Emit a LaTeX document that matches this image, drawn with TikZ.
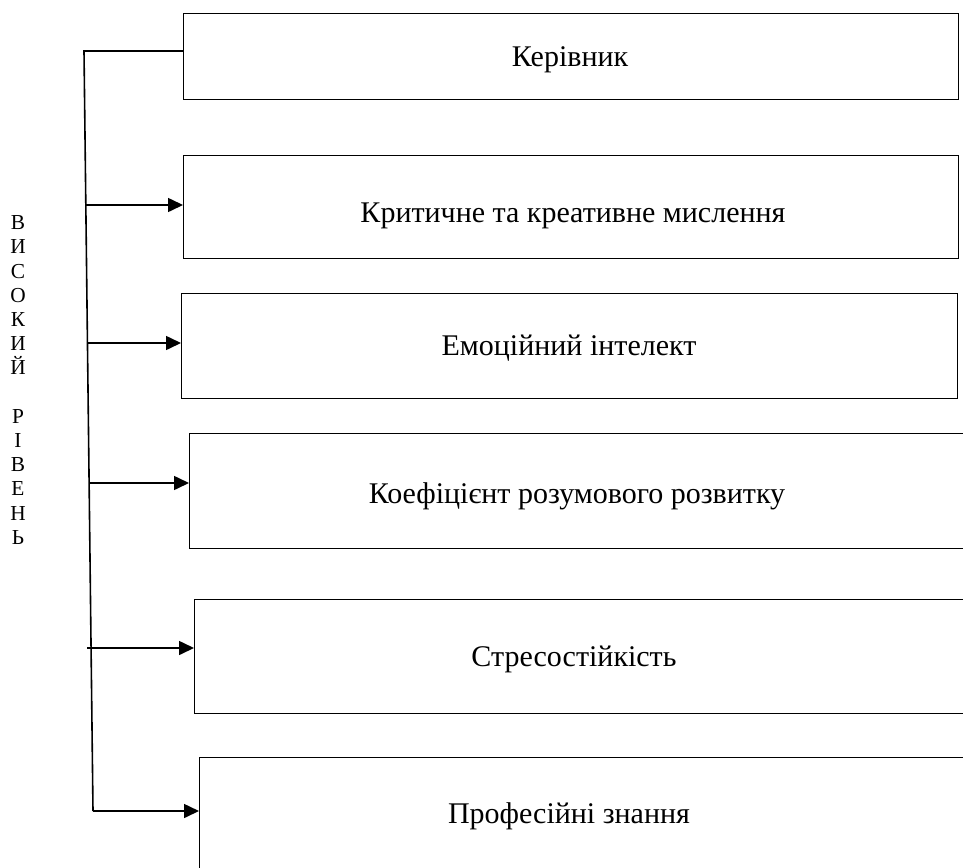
\documentclass[tikz,border=0pt]{standalone}
\usepackage{fontspec}
\setmainfont{Liberation Serif}
\usetikzlibrary{arrows.meta}
\tikzset{
  box/.style={draw, line width=1pt, inner sep=0pt, anchor=north west},
  lbl/.style={anchor=base, font=\fontsize{22.5}{26}\selectfont},
  arr/.style={line width=1.2pt, -{Triangle[length=11.25pt, width=10.5pt]}}
}
\begin{document}
\begin{tikzpicture}[x=0.75pt, y=-0.75pt]
  \path[use as bounding box, clip] (0,0) rectangle (963,867);
  % boxes
  \node[box, minimum width=581.25pt, minimum height=64.5pt] (kerivnyk) at (183,13) {};
  \node[box, minimum width=581.25pt, minimum height=77.25pt] (myslennia) at (183,155) {};
  \node[box, minimum width=582pt, minimum height=78.75pt] (intelekt) at (181,293) {};
  \node[box, minimum width=589.5pt, minimum height=86.25pt] (koef) at (189,433) {};
  \node[box, minimum width=585.75pt, minimum height=85.5pt] (stres) at (194,599) {};
  \node[box, minimum width=582pt, minimum height=92.25pt] (znannia) at (199,757) {};
  % texts
  \node[lbl] (t1) at (570,67) {Керівник};
  \node[lbl] (t2) at (573,222) {Критичне та креативне мислення};
  \node[lbl] (t3) at (569,355) {Емоційний інтелект};
  \node[lbl] (t4) at (577,503) {Коефіцієнт розумового розвитку};
  \node[lbl] (t5) at (574,666) {Стресостійкість};
  \node[lbl] (t6) at (569,823) {Професійні знання};
  % vertical text
  \node[align=center, inner sep=0pt, font=\fontsize{16}{18.15}\selectfont] (riven) at (18,380)
    {В\\И\\С\\О\\К\\И\\Й\\ \\Р\\І\\В\\Е\\Н\\Ь};
  % trunk
  \coordinate (top) at (84,51);
  \coordinate (bot) at (93,811);
  \coordinate (a2) at (86,205);
  \coordinate (a3) at (87,343);
  \coordinate (a4) at (89,483);
  \coordinate (a5) at (87,648);
  \draw[line width=1.2pt] (kerivnyk.west |- top) -- (top) -- (bot);
  \draw[arr] (a2) -- (a2 -| myslennia.west);
  \draw[arr] (a3) -- (a3 -| intelekt.west);
  \draw[arr] (a4) -- (a4 -| koef.west);
  \draw[arr] (a5) -- (a5 -| stres.west);
  \draw[arr] (bot) -- (bot -| znannia.west);
\end{tikzpicture}
\end{document}
